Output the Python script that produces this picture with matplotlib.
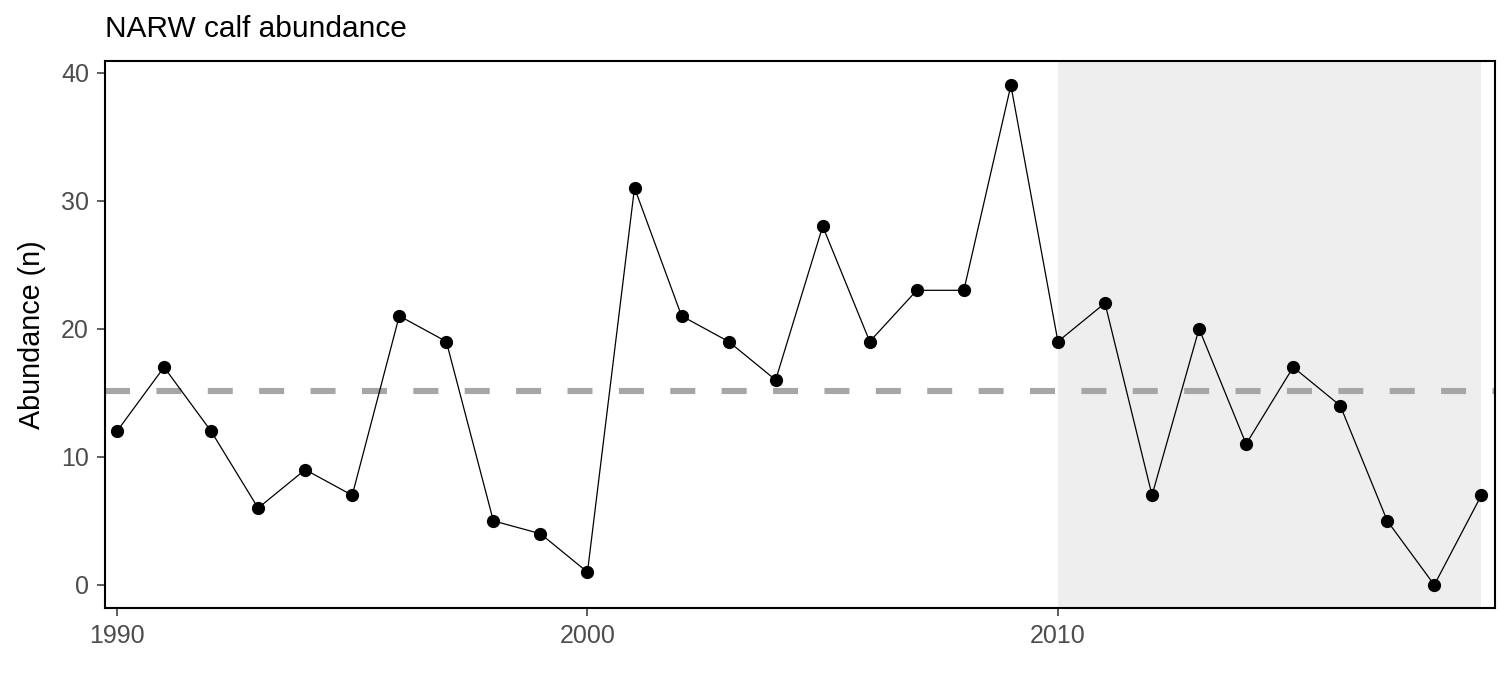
import matplotlib
matplotlib.use('Agg')
import matplotlib.pyplot as plt

# calf counts per year
years = list(range(1990, 2020))
calves = [12, 17, 12, 6, 9, 7, 21, 19, 5, 4, 1, 31, 21, 19, 16, 28,
          19, 23, 23, 39, 19, 22, 7, 20, 11, 17, 14, 5, 0, 7]
shade_span = [2010, 2019]
x_ticks = [1990, 2000, 2010]
y_ticks = [0, 10, 20, 30, 40]

plt.rcParams['font.family'] = ['Liberation Sans', 'DejaVu Sans']
plt.rcParams['lines.scale_dashes'] = False

fig = plt.figure(figsize=(15.12, 6.8), dpi=100)
ax = fig.add_axes([105/1512, 72/680, 1390/1512, 547/680])

mean_val = sum(calves) / len(calves)

ax.axvspan(shade_span[0], shade_span[1], color='#EEEEEE', lw=0, zorder=0)
ax.axhline(mean_val, color='#A6A6A6', lw=4.4, dashes=(18, 19), zorder=1)
ax.plot(years, calves, color='black', lw=0.9, zorder=2)
ax.plot(years, calves, 'o', color='black', ms=8.5, zorder=3)

ax.set_xlim(1989.745, 2019.29)
ax.set_ylim(-1.8, 40.9)
ax.set_xticks(x_ticks)
ax.set_yticks(y_ticks)
ax.tick_params(axis='both', labelsize=18, labelcolor='#4D4D4D',
               color='#333333', length=6, width=1.1, pad=5.5)
for s in ax.spines.values():
    s.set_linewidth(1.5)
    s.set_color('black')

ax.set_ylabel('Abundance (n)', fontsize=20.7, labelpad=11)
ax.set_title('NARW calf abundance', loc='left', fontsize=21.5, pad=17)

fig.savefig('out.png', dpi=100)
